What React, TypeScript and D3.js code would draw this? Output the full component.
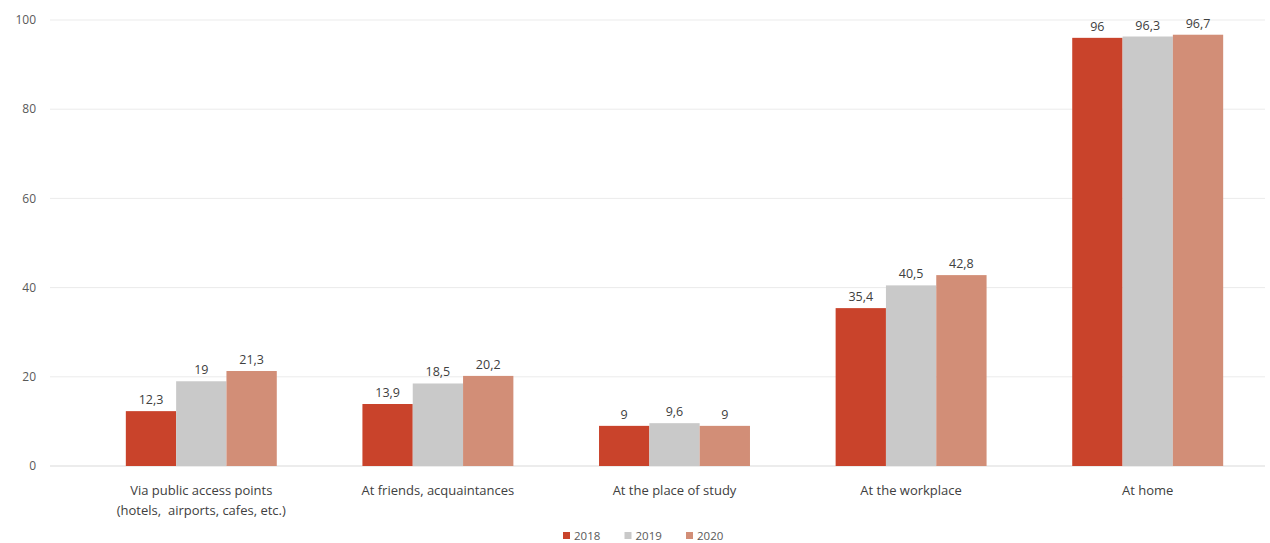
import React from "react";
import * as d3 from "d3";

// Where people access the internet, share of users (%)
const categories: string[][] = [
  ["Via public access points", "(hotels,\u00a0 airports, cafes, etc.)"],
  ["At friends, acquaintances"],
  ["At the place of study"],
  ["At the workplace"],
  ["At home"],
];
const years = ["2018", "2019", "2020"];
const values2018 = [12.3, 13.9, 9, 35.4, 96];
const values2019 = [19, 18.5, 9.6, 40.5, 96.3];
const values2020 = [21.3, 20.2, 9, 42.8, 96.7];
const yTicks = [0, 20, 40, 60, 80, 100];

const seriesValues = [values2018, values2019, values2020];
const colors = ["#c9432b", "#c9c9c9", "#d28e77"];

const W = 1270;
const H = 543;
const FONT = "'Open Sans', 'Liberation Sans', sans-serif";

const fmt = (v: number) => String(v).replace(".", ",");

export default function App() {
  const y = d3.scaleLinear().domain([0, 100]).range([466, 20]);
  const x0 = d3
    .scaleBand<number>()
    .domain(categories.map((_, i) => i))
    .range([83, 1266])
    .paddingInner(0.362)
    .paddingOuter(0.181);
  const x1 = d3
    .scaleBand<number>()
    .domain(years.map((_, i) => i))
    .range([0, x0.bandwidth()])
    .padding(0);

  const legendX = d3.scalePoint<number>().domain([0, 1, 2]).range([563, 686]);

  return (
    <>
      <style>{`body{margin:0;background:#fff}`}</style>
      <svg width={W} height={H} style={{ display: "block", fontFamily: FONT }}>
        <rect width={W} height={H} fill="#fff" />
        {yTicks.map((t) => (
          <g key={t}>
            <line
              x1={50}
              x2={1265}
              y1={y(t)}
              y2={y(t)}
              stroke={t === 0 ? "#d9d9d9" : "#ebebeb"}
              strokeWidth={1}
            />
            <text
              x={36}
              y={y(t)}
              dy="0.35em"
              textAnchor="end"
              fontSize={12}
              fill="#595959"
            >
              {t}
            </text>
          </g>
        ))}

        {categories.map((lines, ci) => (
          <g key={ci} transform={`translate(${x0(ci)},0)`}>
            {seriesValues.map((vals, si) => {
              const v = vals[ci];
              const bx = x1(si)!;
              const bw = x1.bandwidth();
              return (
                <g key={si}>
                  <rect
                    x={bx}
                    y={y(v)}
                    width={bw}
                    height={y(0) - y(v)}
                    fill={colors[si]}
                  />
                  <text
                    x={bx + bw / 2}
                    y={y(v) - 7}
                    textAnchor="middle"
                    fontSize={12.5}
                    fill="#404040"
                  >
                    {fmt(v)}
                  </text>
                </g>
              );
            })}
            {lines.map((ln, li) => (
              <text
                key={li}
                x={x0.bandwidth() / 2}
                y={495 + li * 20}
                textAnchor="middle"
                fontSize={13}
                fill="#404040"
              >
                {ln}
              </text>
            ))}
          </g>
        ))}

        {years.map((yr, i) => (
          <g key={yr} transform={`translate(${legendX(i)},0)`}>
            <rect x={0} y={532} width={7} height={7} fill={colors[i]} />
            <text x={11} y={539.5} fontSize={11.5} fill="#595959">
              {yr}
            </text>
          </g>
        ))}
      </svg>
    </>
  );
}
